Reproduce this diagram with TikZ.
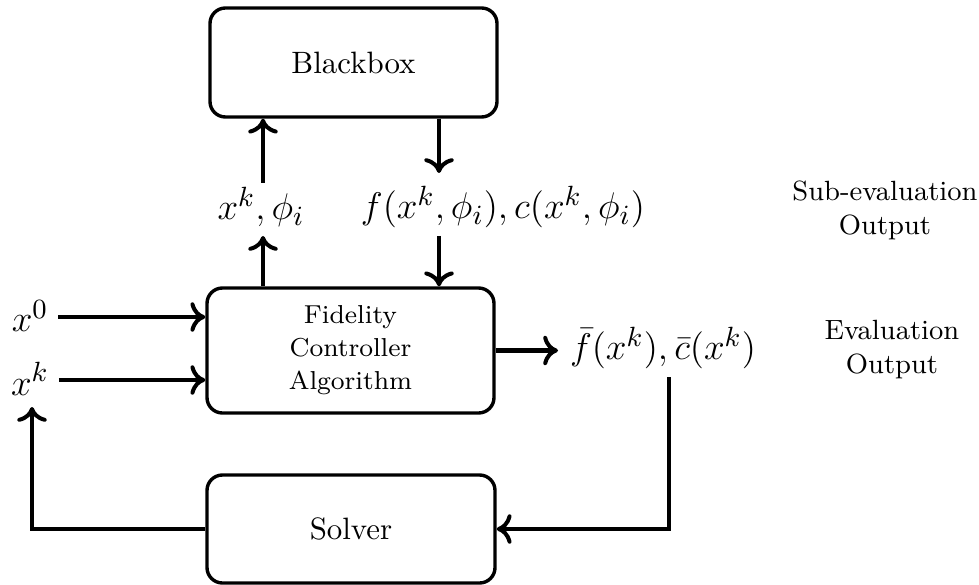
\documentclass[tikz,border=0pt]{standalone}
\usetikzlibrary{arrows.meta}
\begin{document}
\begin{tikzpicture}[x=0.3236pt,y=-0.3236pt,
  box/.style={draw,line width=1.1pt,rounded corners=5pt,inner sep=0pt},
  arr/.style={line width=1.3pt,-{To[length=4.8pt,width=9.5pt,line width=1.3pt]}},
  mlab/.style={font=\fontsize{12.5}{15}\selectfont,inner sep=3pt},
  side/.style={font=\fontsize{9}{11}\selectfont,align=center}]
\useasboundingbox (0,0) rectangle (979,584);
\node[box,minimum width={287*0.3236pt},minimum height={109*0.3236pt}] (bb) at (353.5,62.5) {Blackbox};
\node[box,minimum width={287*0.3236pt},minimum height={125*0.3236pt},align=center,font=\fontsize{8.4}{10.7}\selectfont] (fca) at (350.5,350.5) {Fidelity\\Controller\\Algorithm};
\node[box,minimum width={288*0.3236pt},minimum height={108*0.3236pt}] (solver) at (351,529) {Solver};
\node[mlab] (x0) at (30,316) {$x^0$};
\node[mlab] (xk) at (30,379) {$x^k$};
\node[mlab] (xkphi) at (261,207) {$x^k,\phi_i$};
\node[mlab] (fphi) at (503,207) {$f(x^k,\phi_i),c(x^k,\phi_i)$};
\node[mlab] (fbar) at (663,348) {$\bar f(x^k),\bar c(x^k)$};
\node[side] (sub) at (885,210) {Sub-evaluation\\Output};
\node[side] (ev) at (892,350) {Evaluation\\Output};
\coordinate (c0) at (263,0);
\coordinate (c1) at (439,0);
\coordinate (c2) at (669,0);
\coordinate (c3) at (32,407);
\draw[arr] (x0.east |- 0,317) -- (fca.west |- 0,317);
\draw[arr] (xk.east |- 0,380) -- (fca.west |- 0,380);
\draw[arr] (fca.north -| c0) -- (c0 |- 0,236);
\draw[arr] (c0 |- 0,183) -- (c0 |- bb.south);
\draw[arr] (bb.south -| c1) -- (c1 |- 0,173);
\draw[arr] (c1 |- 0,236) -- (c1 |- fca.north);
\draw[arr] (fca.east) -- (fca.east -| 558,0);
\draw[arr] (c2 |- 0,377) -- (c2 |- solver.east) -- (solver.east);
\draw[arr] (solver.west) -- (solver.west -| c3) -- (c3);
\end{tikzpicture}
\end{document}
